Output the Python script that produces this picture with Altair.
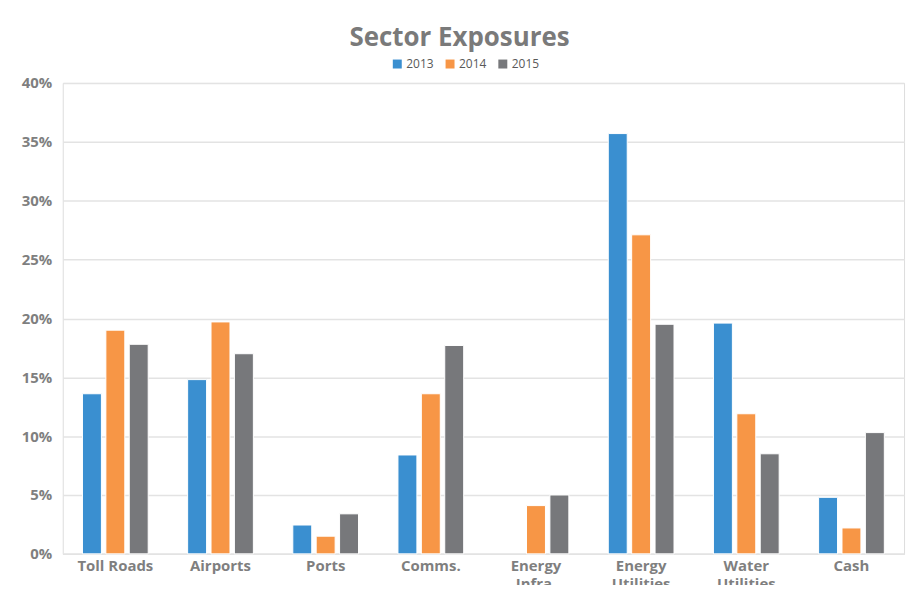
import altair as alt
import pandas as pd

sectors = ["Toll Roads", "Airports", "Ports", "Comms.", "Energy Infra.",
           "Energy Utilities", "Water Utilities", "Cash"]
years = ["2013", "2014", "2015"]
v2013 = [13.6, 14.8, 2.45, 8.4, 0.0, 35.7, 19.6, 4.8]
v2014 = [19.0, 19.7, 1.5, 13.6, 4.1, 27.1, 11.9, 2.2]
v2015 = [17.8, 17.0, 3.4, 17.7, 5.0, 19.5, 8.5, 10.3]
colors = ["#3A8FD0", "#F79646", "#77787B"]

rows = []
for vals, yr in zip([v2013, v2014, v2015], years):
    for s, v in zip(sectors, vals):
        if v > 0:
            rows.append({"Sector": s, "Year": yr, "Value": v / 100})
df = pd.DataFrame(rows)

font = "Open Sans"
grey = "#7f7f7f"

chart = alt.Chart(df).mark_bar(stroke="white", strokeWidth=1).encode(
    x=alt.X("Sector:N", sort=sectors,
            scale=alt.Scale(paddingInner=0.375, paddingOuter=0.1875),
            axis=alt.Axis(title=None, labelAngle=0, labelFont=font, labelFontSize=15,
                          labelFontWeight="bold", labelColor=grey, ticks=False,
                          domain=True, domainColor="#e3e3e3", domainWidth=1.5,
                          labelPadding=5, labelLineHeight=18,
                          labelExpr="indexof(datum.label, 'Energy') == 0 || indexof(datum.label, 'Water') == 0 ? split(datum.label, ' ') : datum.label")),
    xOffset=alt.XOffset("Year:N", sort=years,
                        scale=alt.Scale(paddingInner=0.19, paddingOuter=0)),
    y=alt.Y("Value:Q",
            scale=alt.Scale(domain=[0, 0.4], nice=False),
            axis=alt.Axis(title=None, format=".0%",
                          values=[0, 0.05, 0.1, 0.15, 0.2, 0.25, 0.3, 0.35, 0.4],
                          labelFont=font, labelFontSize=15, labelFontWeight="bold",
                          labelColor=grey, ticks=False, domain=False,
                          gridColor="#e3e3e3", gridWidth=1.5, labelPadding=11)),
    color=alt.Color("Year:N", sort=years,
                    scale=alt.Scale(domain=years, range=colors),
                    legend=alt.Legend(title=None, orient="none", direction="horizontal",
                                      legendX=330, legendY=-25, symbolType="square",
                                      symbolSize=81, symbolStrokeWidth=0,
                                      labelFont=font, labelFontSize=12, labelColor="#595959",
                                      columnPadding=10, labelOffset=3)),
).properties(
    width=845, height=473,
    title=alt.TitleParams("Sector Exposures", font=font, fontSize=26, fontWeight="bold",
                          color="#7a7a7a", anchor="middle", dx=-24, offset=7),
    autosize=alt.AutoSizeParams(type="none"),
    padding={"left": 55, "top": 74, "right": 10, "bottom": 30},
).configure_view(stroke=None).configure(background="white")

chart.save("out.html", embed_options={"renderer": "svg", "actions": False})
